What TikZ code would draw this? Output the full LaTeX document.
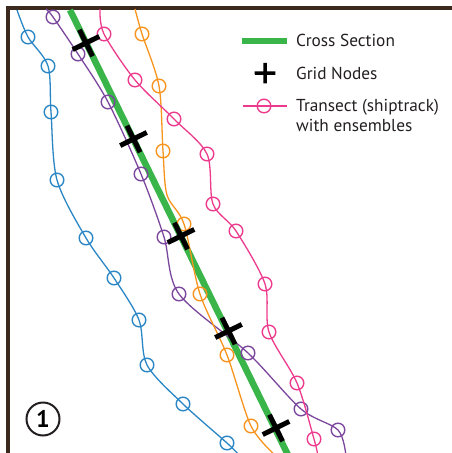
\documentclass[tikz,border=0pt]{standalone}
\usepackage{fontspec}
\setmainfont{PT Sans}
\usetikzlibrary{shapes.misc,positioning,plotmarks}
\definecolor{frameBrown}{HTML}{3C2A1E}
\definecolor{sectionGreen}{HTML}{3AB54A}
\definecolor{trackBlue}{HTML}{2B86C5}
\definecolor{trackPurple}{HTML}{7B479D}
\definecolor{trackOrange}{HTML}{F7941E}
\definecolor{trackPink}{HTML}{EC3B8D}
\definecolor{textGray}{HTML}{231F20}

\begin{document}
\begin{tikzpicture}[x=1pt,y=-1pt,
	track/.style={line width=1.3pt},
	ensembles/.style={mark=o, mark size=6.8pt, mark options={line width=1.4pt}},
	section line/.style={line width=6.5pt, sectionGreen},
	grid node/.style={cross out, draw=black, line width=5pt, minimum size=16pt, inner sep=0pt, rotate=-18.7},
	legend text/.style={anchor=base west, inner sep=0pt, text=textGray, align=left, font=\fontsize{17.3}{20}\selectfont}]
	\useasboundingbox (0,0) rectangle (452,453);
	
	% frame
	\draw[frameBrown, line width=3.5pt] (8,453) -- (8,8) -- (452,8);
	
	% cross section
	\coordinate (csTop) at (70,10);
	\coordinate (csBottom) at (288,455);
	\draw[section line] (csTop) -- (csBottom);
	
	% transects
	\draw[track, trackBlue] plot[smooth] coordinates {(17,10) (28,37) (48,66) (51,112) (57,180) (86,238) (114,278) (139,320) (147,365) (183,404) (227,443) (240,456)};
	\draw[track, trackBlue] plot[only marks, ensembles] coordinates {(28,37) (48,66) (51,112) (57,180) (86,238) (114,278) (139,320) (147,365) (183,404) (227,443)};
	\draw[track, trackPurple] plot[smooth] coordinates {(46,9) (53,17) (78,54) (108,102) (141,174) (164,237) (179,294) (248,353) (301,409) (338,430) (346,456)};
	\draw[track, trackPurple] plot[only marks, ensembles] coordinates {(53,17) (78,54) (108,102) (141,174) (164,237) (179,294) (248,353) (301,409) (338,430)};
	\draw[track, trackOrange] plot[smooth] coordinates {(135,9) (142,34) (159,86) (163,151) (167,195) (184,224) (200,294) (227,355) (251,426) (276,456)};
	\draw[track, trackOrange] plot[only marks, ensembles] coordinates {(142,34) (159,86) (163,151) (184,224) (200,294) (227,355) (251,426)};
	\draw[track, trackPink] plot[smooth] coordinates {(100,9) (104,34) (135,80) (174,119) (207,154) (213,204) (236,231) (265,284) (269,332) (297,383) (314,439) (318,456)};
	\draw[track, trackPink] plot[only marks, ensembles] coordinates {(104,34) (135,80) (174,119) (207,154) (213,204) (236,231) (265,284) (269,332) (297,383) (314,439)};
	
	% grid nodes
	\node[grid node] (g1) at (86,43) {};
	\node[grid node] (g2) at (133.5,139) {};
	\node[grid node] (g3) at (181,236) {};
	\node[grid node] (g4) at (228.5,331) {};
	\node[grid node] (g5) at (276,428) {};
	
	% legend
	\coordinate (legCsA) at (242,41);
	\coordinate (legCsB) at (287,41);
	\draw[sectionGreen, line width=5.5pt] (legCsA) -- (legCsB);
	\node[grid node, rotate=63.7, line width=3.5pt, minimum size=11pt] (legGrid) at (265,73) {};
	\coordinate (legTrA) at (243,106);
	\coordinate (legTrB) at (287,106);
	\draw[track, trackPink] (legTrA) -- (legTrB);
	\draw[track, trackPink] plot[only marks, ensembles] coordinates {(264,106)};
	
	\node[legend text] (csText) at (296,46.7) {Cross Section};
	\node[legend text] (gridText) at (296,79) {Grid Nodes};
	\node[legend text] (trackText) at (296,131.7) {Transect (shiptrack)\\with ensembles};
	
	\node[circle, draw=textGray, line width=2pt, minimum size=33pt, inner sep=0pt, text=black, font=\fontsize{24}{24}\selectfont\bfseries] (panel) at (43,419) {1};
\end{tikzpicture}
\end{document}
